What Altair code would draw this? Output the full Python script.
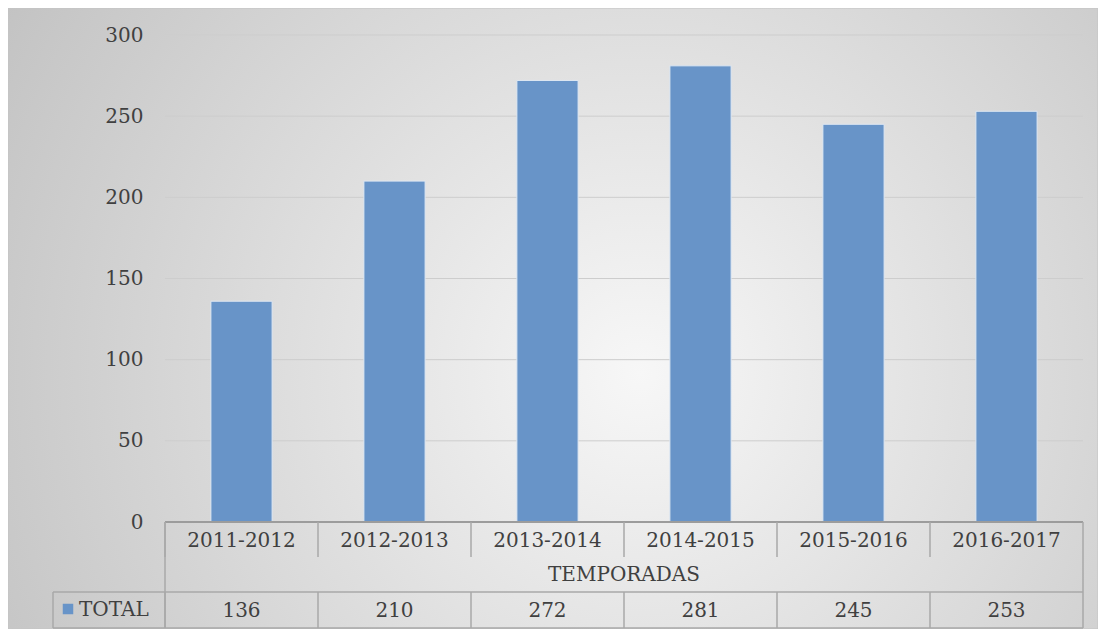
import altair as alt
import pandas as pd

categories = ["2011-2012", "2012-2013", "2013-2014", "2014-2015", "2015-2016", "2016-2017"]
totals = [136, 210, 272, 281, 245, 253]
series_name = "TOTAL"
axis_title = "TEMPORADAS"
y_ticks = [0, 50, 100, 150, 200, 250, 300]

df = pd.DataFrame({"cat": categories, "value": totals})
grid_df = pd.DataFrame({"tick": y_ticks[1:]})
one = pd.DataFrame({"a": [0]})

W, H = 918, 487
FONT = "DejaVu Serif"
TXT = "#404040"
LINE = "#a8a8a8"
BAR = "#6894c8"

xenc = alt.X("cat:N", sort=categories, axis=None,
             scale=alt.Scale(paddingInner=0.6, paddingOuter=0.3))
yscale = alt.Scale(domain=[0, 300])
yaxis = alt.Axis(values=y_ticks, grid=False, ticks=False, domain=False,
                 labelPadding=22, zindex=1,
                 labelFont=FONT, labelFontSize=20, labelColor=TXT, title=None)

bg = alt.Chart(one).mark_rect(
    color={"gradient": "radial", "x1": 0.58, "y1": 0.55, "r1": 0.0,
           "x2": 0.58, "y2": 0.55, "r2": 0.75,
           "stops": [{"offset": 0, "color": "#f7f7f7"},
                     {"offset": 1, "color": "#bdbdbd"}]},
    stroke="#c4c4c4", strokeWidth=1
).encode(x=alt.value(-157), x2=alt.value(W + 15), y=alt.value(-27), y2=alt.value(H + 107))

grid = alt.Chart(grid_df).mark_rule(color="#cdcdcd", strokeWidth=1).encode(
    y=alt.Y("tick:Q", scale=yscale, axis=yaxis), x=alt.value(0), x2=alt.value(W))

bars = alt.Chart(df).mark_bar(color=BAR, stroke="#dfe8f3", strokeWidth=1).encode(
    x=xenc,
    y=alt.Y("value:Q", scale=yscale, axis=yaxis),
)

top_line = alt.Chart(one).mark_rule(color="#9c9c9c", strokeWidth=2).encode(
    x=alt.value(0), x2=alt.value(W), y=alt.value(H))

sep1 = alt.Chart(df).mark_rule(color=LINE, strokeWidth=1.5, xOffset=-76.5).encode(
    x=xenc, y=alt.value(H), y2=alt.value(H + 35))
sep3 = alt.Chart(df).mark_rule(color=LINE, strokeWidth=1.5, xOffset=-76.5).encode(
    x=xenc, y=alt.value(H + 70), y2=alt.value(H + 106))

left_b = alt.Chart(one).mark_rule(color=LINE, strokeWidth=1.5).encode(
    x=alt.value(0), y=alt.value(H), y2=alt.value(H + 106))
right_b = alt.Chart(one).mark_rule(color=LINE, strokeWidth=1.5).encode(
    x=alt.value(W), y=alt.value(H), y2=alt.value(H + 106))
leg_left = alt.Chart(one).mark_rule(color=LINE, strokeWidth=1.5).encode(
    x=alt.value(-112), y=alt.value(H + 70), y2=alt.value(H + 106))
hline_mid = alt.Chart(one).mark_rule(color=LINE, strokeWidth=1.5).encode(
    x=alt.value(-112), x2=alt.value(W), y=alt.value(H + 70))
hline_bot = alt.Chart(one).mark_rule(color=LINE, strokeWidth=1.5).encode(
    x=alt.value(-112), x2=alt.value(W), y=alt.value(H + 106))

cat_txt = alt.Chart(df).mark_text(font=FONT, fontSize=20, color=TXT, baseline="middle").encode(
    x=xenc, y=alt.value(H + 19), text="cat:N")
title_txt = alt.Chart(pd.DataFrame({"t": [axis_title]})).mark_text(
    font=FONT, fontSize=20, color=TXT, baseline="middle").encode(
    x=alt.value(W / 2), y=alt.value(H + 53), text="t:N")
val_txt = alt.Chart(df).mark_text(font=FONT, fontSize=20, color=TXT, baseline="middle").encode(
    x=xenc, y=alt.value(H + 89), text="value:Q")

leg_sq = alt.Chart(one).mark_square(color=BAR, size=110, opacity=1).encode(
    x=alt.value(-97), y=alt.value(H + 87))
leg_txt = alt.Chart(pd.DataFrame({"t": [series_name]})).mark_text(
    font=FONT, fontSize=20, color=TXT, baseline="middle", align="left").encode(
    x=alt.value(-86), y=alt.value(H + 88), text="t:N")

chart = alt.layer(
    bg, grid, bars, top_line, sep1, sep3, left_b, right_b, leg_left, hline_mid, hline_bot,
    cat_txt, title_txt, val_txt, leg_sq, leg_txt
).properties(
    width=W, height=H,
    autosize=alt.AutoSizeParams(type="none"),
    padding={"left": 157, "top": 27, "right": 15, "bottom": 107},
).configure_view(stroke=None).configure(background="white")

chart.save("out.html", embed_options={"renderer": "svg", "actions": False})
